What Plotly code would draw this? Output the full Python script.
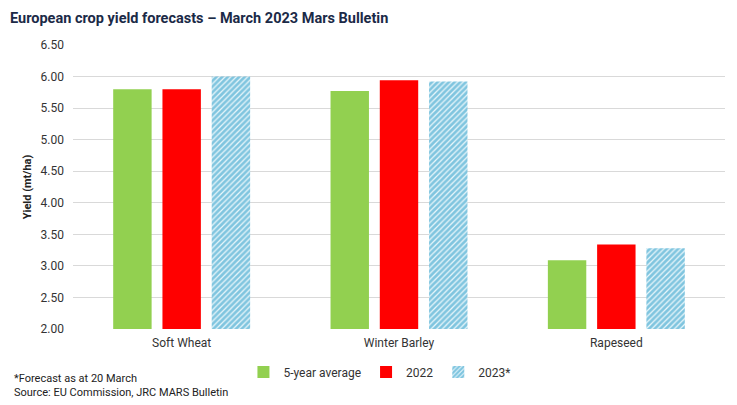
import plotly.graph_objects as go

categories = ["Soft Wheat", "Winter Barley", "Rapeseed"]
avg5 = [5.80, 5.77, 3.09]
y2022 = [5.80, 5.94, 3.34]
y2023 = [6.00, 5.92, 3.28]
ytick_vals = [2.0, 2.5, 3.0, 3.5, 4.0, 4.5, 5.0, 5.5, 6.0, 6.5]
ytick_text = [f"{v:.2f}" for v in ytick_vals]

FONT = "Roboto, 'Open Sans', sans-serif"
PW = 652.0
PH = 284.0

fig = go.Figure()
fig.add_bar(name="5-year average", x=categories, y=avg5, marker=dict(color="#92d050", line=dict(width=0)))
fig.add_bar(name="2022", x=categories, y=y2022, marker=dict(color="#ff0000", line=dict(width=0)))
fig.add_bar(name="2023*", x=categories, y=y2023,
            marker=dict(color="white", line=dict(width=0),
                        pattern=dict(shape="/", fgcolor="#1593c4", bgcolor="#eaf7fb", size=4, solidity=0.7)))

fig.update_layout(
    width=729, height=397,
    margin=dict(l=65, r=12, t=37, b=76),
    paper_bgcolor="white", plot_bgcolor="white",
    font=dict(family=FONT, size=12, color="#333333"),
    barmode="group", bargap=0.32, bargroupgap=0.22,
    showlegend=True,
    legend=dict(orientation="h", x=0.47, xanchor="center", y=-(372 - 329) / PH, yanchor="middle",
                font=dict(size=12, color="#333333"), traceorder="normal",
                itemwidth=30, bgcolor="rgba(0,0,0,0)"),
    xaxis=dict(showgrid=False, showline=False, ticks="", ticklabelstandoff=5,
               tickfont=dict(size=12, color="#333333")),
    yaxis=dict(range=[2.0, 6.5], tickvals=ytick_vals, ticktext=ytick_text,
               showgrid=True, gridcolor="#d9d9d9", gridwidth=1, zeroline=False,
               showline=False, ticks="", ticklabelstandoff=8,
               tickfont=dict(size=12, color="#333333"),
               title=dict(text="<b>Yield (mt/ha)</b>", font=dict(size=11, color="#222222"), standoff=6)),
    annotations=[
        dict(text="<b>European crop yield forecasts – March 2023 Mars Bulletin</b>",
             xref="paper", yref="paper", x=-65 / PW, y=1 + 37 / PH, xanchor="left", yanchor="top",
             showarrow=False, font=dict(size=14.5, color="#1b2a47", family=FONT)),
        dict(text="*Forecast as at 20 March<br>Source: EU Commission, JRC MARS Bulletin",
             xref="paper", yref="paper", x=-61 / PW, y=-(385.5 - 329) / PH, xanchor="left", yanchor="middle",
             align="left", showarrow=False, font=dict(size=11, color="#222222", family=FONT)),
    ],
)

fig.write_html("out.html")
